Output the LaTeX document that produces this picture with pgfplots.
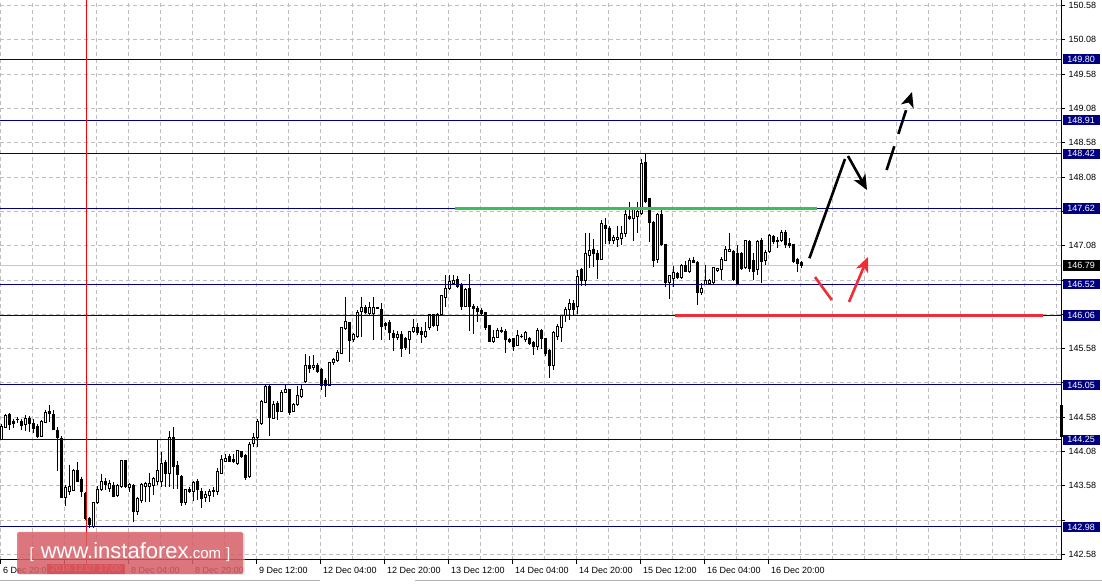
\documentclass[border=0pt]{standalone}
\usepackage{fontspec}
\setmainfont{Liberation Sans}
\usepackage{pgfplots}
\usepackage{pgfplotstable}
\pgfplotsset{compat=1.18}
\usetikzlibrary{arrows.meta}
\definecolor{navy}{RGB}{0,0,128}
\definecolor{gridgray}{RGB}{190,190,190}
\definecolor{lvlgreen}{RGB}{60,190,90}
\definecolor{lvlred}{RGB}{238,45,55}
\definecolor{wmred}{RGB}{215,75,85}
\definecolor{datered}{RGB}{235,0,0}

\pgfplotstableread{
i o h l c
0 144.26 144.48 144.25 144.44
1 144.43 144.62 144.42 144.60
2 144.62 144.64 144.39 144.48
3 144.52 144.56 144.42 144.49
4 144.54 144.59 144.49 144.55
5 144.52 144.55 144.39 144.46
6 144.48 144.61 144.38 144.56
7 144.56 144.60 144.37 144.49
8 144.49 144.55 144.35 144.42
9 144.44 144.48 144.28 144.30
10 144.30 144.54 144.29 144.52
11 144.51 144.68 144.49 144.65
12 144.66 144.76 144.51 144.64
13 144.62 144.68 144.39 144.40
14 144.39 144.43 143.80 144.28
15 144.27 144.30 143.40 143.41
16 143.41 143.59 143.28 143.55
17 143.50 143.89 143.45 143.57
18 143.51 143.83 143.50 143.80
19 143.80 143.93 143.63 143.65
20 143.67 143.71 143.42 143.49
21 143.47 143.49 143.08 143.10
22 143.11 143.13 142.96 143.01
23 142.99 143.35 142.97 143.33
24 143.34 143.58 143.31 143.53
25 143.53 143.75 143.50 143.65
26 143.65 143.69 143.52 143.60
27 143.54 143.67 143.49 143.62
28 143.59 143.63 143.41 143.42
29 143.44 143.60 143.42 143.58
30 143.57 143.96 143.55 143.95
31 143.95 143.96 143.55 143.57
32 143.55 143.62 143.49 143.60
33 143.59 143.60 143.05 143.20
34 143.20 143.42 143.15 143.39
35 143.37 143.62 143.33 143.60
36 143.57 143.64 143.35 143.61
37 143.57 143.76 143.35 143.61
38 143.59 143.71 143.45 143.68
39 143.65 144.26 143.59 143.80
40 143.64 144.07 143.57 143.91
41 143.92 143.96 143.57 143.76
42 143.76 144.38 143.57 144.28
43 144.28 144.44 143.54 143.86
44 143.88 143.94 143.54 143.74
45 143.72 143.74 143.29 143.33
46 143.33 143.54 143.30 143.52
47 143.52 143.57 143.47 143.49
48 143.49 143.65 143.36 143.63
49 143.64 143.68 143.37 143.52
50 143.50 143.55 143.26 143.40
51 143.41 143.50 143.35 143.45
52 143.44 143.54 143.34 143.50
53 143.51 143.57 143.42 143.49
54 143.50 143.84 143.45 143.79
55 143.76 144.03 143.75 143.97
56 143.94 144.04 143.92 143.98
57 144.01 144.05 143.92 143.94
58 143.96 144.05 143.91 143.93
59 143.91 144.10 143.89 144.09
60 144.08 144.09 143.98 144.01
61 144.02 144.04 143.67 143.70
62 143.71 144.22 143.70 144.18
63 144.19 144.35 144.15 144.28
64 144.28 144.56 144.15 144.52
65 144.49 144.83 144.47 144.81
66 144.80 145.05 144.78 145.03
67 145.03 145.05 144.30 144.58
68 144.56 144.81 144.55 144.77
69 144.78 144.81 144.54 144.66
70 144.66 144.98 144.65 144.94
71 144.94 145.06 144.93 144.98
72 144.98 144.99 144.61 144.65
73 144.66 144.78 144.65 144.76
74 144.76 145.03 144.74 144.89
75 144.88 145.07 144.86 144.98
76 145.10 145.50 145.08 145.34
77 145.34 145.47 145.22 145.29
78 145.31 145.49 145.27 145.34
79 145.34 145.37 145.22 145.25
80 145.28 145.29 144.98 145.04
81 145.12 145.15 144.87 145.04
82 145.04 145.39 145.03 145.37
83 145.37 145.45 145.34 145.42
84 145.41 145.56 145.39 145.52
85 145.51 145.90 145.50 145.88
86 145.87 146.33 145.85 145.97
87 145.96 145.97 145.38 145.70
88 145.71 145.80 145.68 145.78
89 145.76 146.14 145.74 146.10
90 146.12 146.33 145.75 146.18
91 146.18 146.22 146.08 146.10
92 146.09 146.26 146.07 146.18
93 146.09 146.33 145.71 146.18
94 146.17 146.19 146.15 146.18
95 146.15 146.24 145.71 145.90
96 145.95 145.97 145.85 145.91
97 145.96 145.99 145.71 145.81
98 145.80 145.85 145.55 145.74
99 145.74 145.83 145.71 145.78
100 145.79 145.83 145.45 145.58
101 145.72 145.75 145.56 145.60
102 145.71 145.84 145.50 145.83
103 145.83 146.01 145.80 145.88
104 145.88 145.95 145.78 145.82
105 145.83 145.90 145.66 145.78
106 145.75 145.97 145.73 145.83
107 145.88 146.09 145.85 146.08
108 146.07 146.09 145.90 145.92
109 145.92 146.10 145.83 146.08
110 146.07 146.36 146.06 146.35
111 146.33 146.65 146.19 146.46
112 146.46 146.65 146.44 146.56
113 146.53 146.65 146.51 146.57
114 146.58 146.64 146.46 146.48
115 146.51 146.53 146.14 146.19
116 146.19 146.46 146.18 146.44
117 146.46 146.67 145.84 146.20
118 146.20 146.23 145.79 146.17
119 146.17 146.20 145.97 146.12
120 146.14 146.17 146.05 146.09
121 146.10 146.12 145.85 145.88
122 145.91 145.92 145.67 145.68
123 145.68 145.85 145.66 145.74
124 145.74 145.88 145.73 145.85
125 145.85 145.90 145.80 145.83
126 145.83 145.87 145.52 145.71
127 145.71 145.73 145.66 145.68
128 145.72 145.73 145.54 145.61
129 145.63 145.85 145.62 145.77
130 145.75 145.79 145.73 145.76
131 145.71 145.84 145.68 145.82
132 145.72 145.75 145.63 145.66
133 145.67 145.69 145.49 145.61
134 145.61 145.88 145.56 145.84
135 145.84 145.87 145.58 145.73
136 145.72 145.73 145.47 145.51
137 145.55 145.57 145.15 145.34
138 145.33 145.83 145.27 145.81
139 145.76 145.94 145.70 145.90
140 145.88 146.07 145.67 146.06
141 146.06 146.19 145.97 146.15
142 146.15 146.30 146.00 146.23
143 146.24 146.29 146.07 146.15
144 146.19 146.73 146.09 146.63
145 146.73 146.75 146.49 146.57
146 146.57 147.26 146.49 146.97
147 146.94 147.26 146.76 147.01
148 147.03 147.17 146.77 146.97
149 146.96 147.02 146.60 146.88
150 146.88 147.45 146.87 147.40
151 147.38 147.48 147.11 147.33
152 147.33 147.36 147.10 147.15
153 147.16 147.24 147.11 147.20
154 147.17 147.37 147.06 147.20
155 147.19 147.37 147.09 147.26
156 147.25 147.60 147.21 147.53
157 147.51 147.71 147.45 147.48
158 147.48 147.65 147.15 147.60
159 147.50 147.72 147.26 147.58
160 147.55 148.34 147.53 148.28
161 148.29 148.42 147.70 147.72
162 147.76 147.77 147.14 147.42
163 147.42 147.44 146.77 146.87
164 146.88 147.55 146.83 147.54
165 147.54 147.62 147.07 147.09
166 147.10 147.11 146.48 146.54
167 146.54 146.65 146.30 146.64
168 146.60 146.78 146.48 146.69
169 146.68 146.70 146.59 146.61
170 146.61 146.81 146.59 146.79
171 146.79 146.85 146.69 146.70
172 146.70 146.90 146.68 146.87
173 146.86 146.92 146.82 146.83
174 146.84 146.86 146.22 146.40
175 146.40 146.53 146.36 146.46
176 146.52 146.80 146.51 146.57
177 146.53 146.60 146.51 146.57
178 146.55 146.77 146.52 146.76
179 146.72 146.76 146.70 146.74
180 146.73 146.91 146.58 146.88
181 146.87 147.07 146.85 147.02
182 147.00 147.26 146.99 147.03
183 146.99 147.02 146.56 146.58
184 146.97 147.09 146.51 146.53
185 146.97 146.99 146.73 146.75
186 146.76 147.16 146.74 147.15
187 147.14 147.16 146.70 146.75
188 146.87 146.97 146.58 146.70
189 146.73 147.16 146.65 147.14
190 147.16 147.19 146.53 146.85
191 146.86 147.02 146.80 146.98
192 146.99 147.25 146.97 147.23
193 147.21 147.24 147.11 147.14
194 147.16 147.21 147.04 147.14
195 147.16 147.31 147.14 147.27
196 147.27 147.31 147.04 147.09
197 147.11 147.19 147.04 147.08
198 147.09 147.11 146.82 146.85
199 146.88 146.90 146.70 146.82
200 146.84 146.85 146.76 146.79
}\candles

\begin{document}
\begin{tikzpicture}[font=\fontsize{9}{10}\selectfont]
\useasboundingbox (0,0) rectangle (1102pt,585pt);
\tikzset{lbl/.style={anchor=west, xshift=1.5pt, fill=navy, text=white, inner xsep=2pt, inner ysep=2pt, minimum width=37pt, font=\fontsize{9}{10}\selectfont}}
\begin{axis}[
  at={(0pt,25pt)}, anchor=south west,
  scale only axis, width=1061pt, height=560pt,
  xmin=-0.45, xmax=264.8, ymin=142.499, ymax=150.66,
  axis x line*=bottom, axis y line*=right,
  axis line style={-, black, line width=1pt},
  clip=false,
  tick align=outside,
  major tick length=4pt,
  minor tick length=0pt,
  tick style={black, line width=0.8pt},
  ytick={142.58,143.08,...,150.6},
  yticklabels={142.58,,143.58,144.08,144.58,,145.58,,,147.08,,148.08,148.58,149.08,149.58,150.08,150.58},
  xtick={-0.325,15.675,...,191.7},
  minor xtick={-0.325,7.675,...,263.7},
  xticklabels={6 Dec 20:00,,8 Dec 04:00,8 Dec 20:00,9 Dec 12:00,12 Dec 04:00,12 Dec 20:00,13 Dec 12:00,14 Dec 04:00,14 Dec 20:00,15 Dec 12:00,16 Dec 04:00,16 Dec 20:00},
  grid=both,
  major grid style={gridgray, dash pattern=on 4pt off 3pt, line width=0.8pt},
  minor grid style={gridgray, dash pattern=on 4pt off 3pt, line width=0.8pt},
  tick label style={font=\fontsize{9}{10}\selectfont},
  xticklabel style={anchor=north west, xshift=-1pt},
  yticklabel style={anchor=west},
]
% current price line
\addplot[gray!45, line width=1pt, forget plot] coordinates {(-0.45,146.79) (264.8,146.79)};
% wicks
\addplot[black, line width=1pt, mark=none, forget plot,
  quiver={u=0, v={\thisrow{l}-\thisrow{h}}}]
  table[x=i, y=h] {\candles};
% bodies (outer)
\addplot[black, line width=3pt, mark=none, forget plot,
  quiver={u=0, v={-abs(\thisrow{c}-\thisrow{o})-0.0146}}]
  table[x=i, y expr={max(\thisrow{o},\thisrow{c})+0.0073}] {\candles};
% hollow bodies of rising candles
\addplot[white, line width=1pt, mark=none, forget plot,
  quiver={u=0, v={-max(\thisrow{c}-\thisrow{o}-0.0146,0)}}]
  table[x=i, y expr={\thisrow{c}-0.0073}] {\candles};
% levels
\pgfplotsinvokeforeach{149.80,148.91,148.42,147.62,146.52,146.06,145.05,144.25,142.98}{
  \addplot[navy, line width=1pt, forget plot] coordinates {(-0.45,#1) (264.8,#1)};
}
% red vertical line
\addplot[red, line width=1pt, forget plot] coordinates {(21.05,142.40) (21.05,150.66)};
% green and red thick lines
\addplot[lvlgreen, line width=3pt, forget plot] coordinates {(113.3,147.62) (203.8,147.62)};
\addplot[lvlred, line width=3pt, forget plot] coordinates {(168.3,146.06) (260.3,146.06)};
% scenario arrows
\addplot[black, line width=2.6pt, forget plot] coordinates {(201.9,146.896) (210.8,148.343)};
\addplot[black, line width=2.6pt, forget plot, -{Stealth[length=15pt,width=13pt,inset=4pt]}] coordinates {(211.55,148.386) (216.3,147.891)};
\addplot[black, line width=2.6pt, forget plot, dash pattern=on 25pt off 13pt, -{Stealth[length=15pt,width=13pt,inset=4pt]}] coordinates {(221.2,148.182) (227.55,149.319)};
\addplot[lvlred, line width=2.6pt, forget plot] coordinates {(203.3,146.623) (207.5,146.288)};
\addplot[lvlred, line width=2.6pt, forget plot, -{Stealth[length=15pt,width=13pt,inset=4pt]}] coordinates {(211.8,146.259) (216.55,146.915)};
% black bar on the price scale
\addplot[black, line width=3pt, forget plot] coordinates {(264.8,144.29) (264.8,144.76)};
% price labels
\pgfplotsinvokeforeach{149.80,148.91,148.42,147.62,146.52,146.06,145.05,144.25,142.98}{
  \node[lbl] at (axis cs:264.8,#1) {#1};
}
\node[lbl, fill=black] at (axis cs:264.8,146.79) {146.79};
% date label
\node[fill=datered, text=white!80!gray, anchor=north, inner xsep=4pt, inner ysep=2pt, yshift=-3.5pt] at (axis cs:21.05,142.499) {2016.12.07 17:00};
\end{axis}
% watermark
\fill[gray!40, opacity=0.5, rounded corners=2pt] (19pt,10pt) rectangle (245pt,52pt);
\fill[wmred, opacity=0.72, rounded corners=2pt] (17pt,11pt) rectangle (243pt,53pt);
\node[text=white, anchor=base, inner sep=0pt] at (130pt,26pt) {\fontsize{15}{16}\selectfont[\hspace{7pt}\fontsize{22}{24}\selectfont www.instaforex\fontsize{15}{16}\selectfont .com\hspace{5pt}\fontsize{15}{16}\selectfont]};
% bottom strip
\draw[gray!60, line width=1pt] (0pt,4pt) -- (320pt,4pt);
\draw[gray!60, line width=1pt] (415pt,4pt) -- (1102pt,4pt);
\end{tikzpicture}
\end{document}
